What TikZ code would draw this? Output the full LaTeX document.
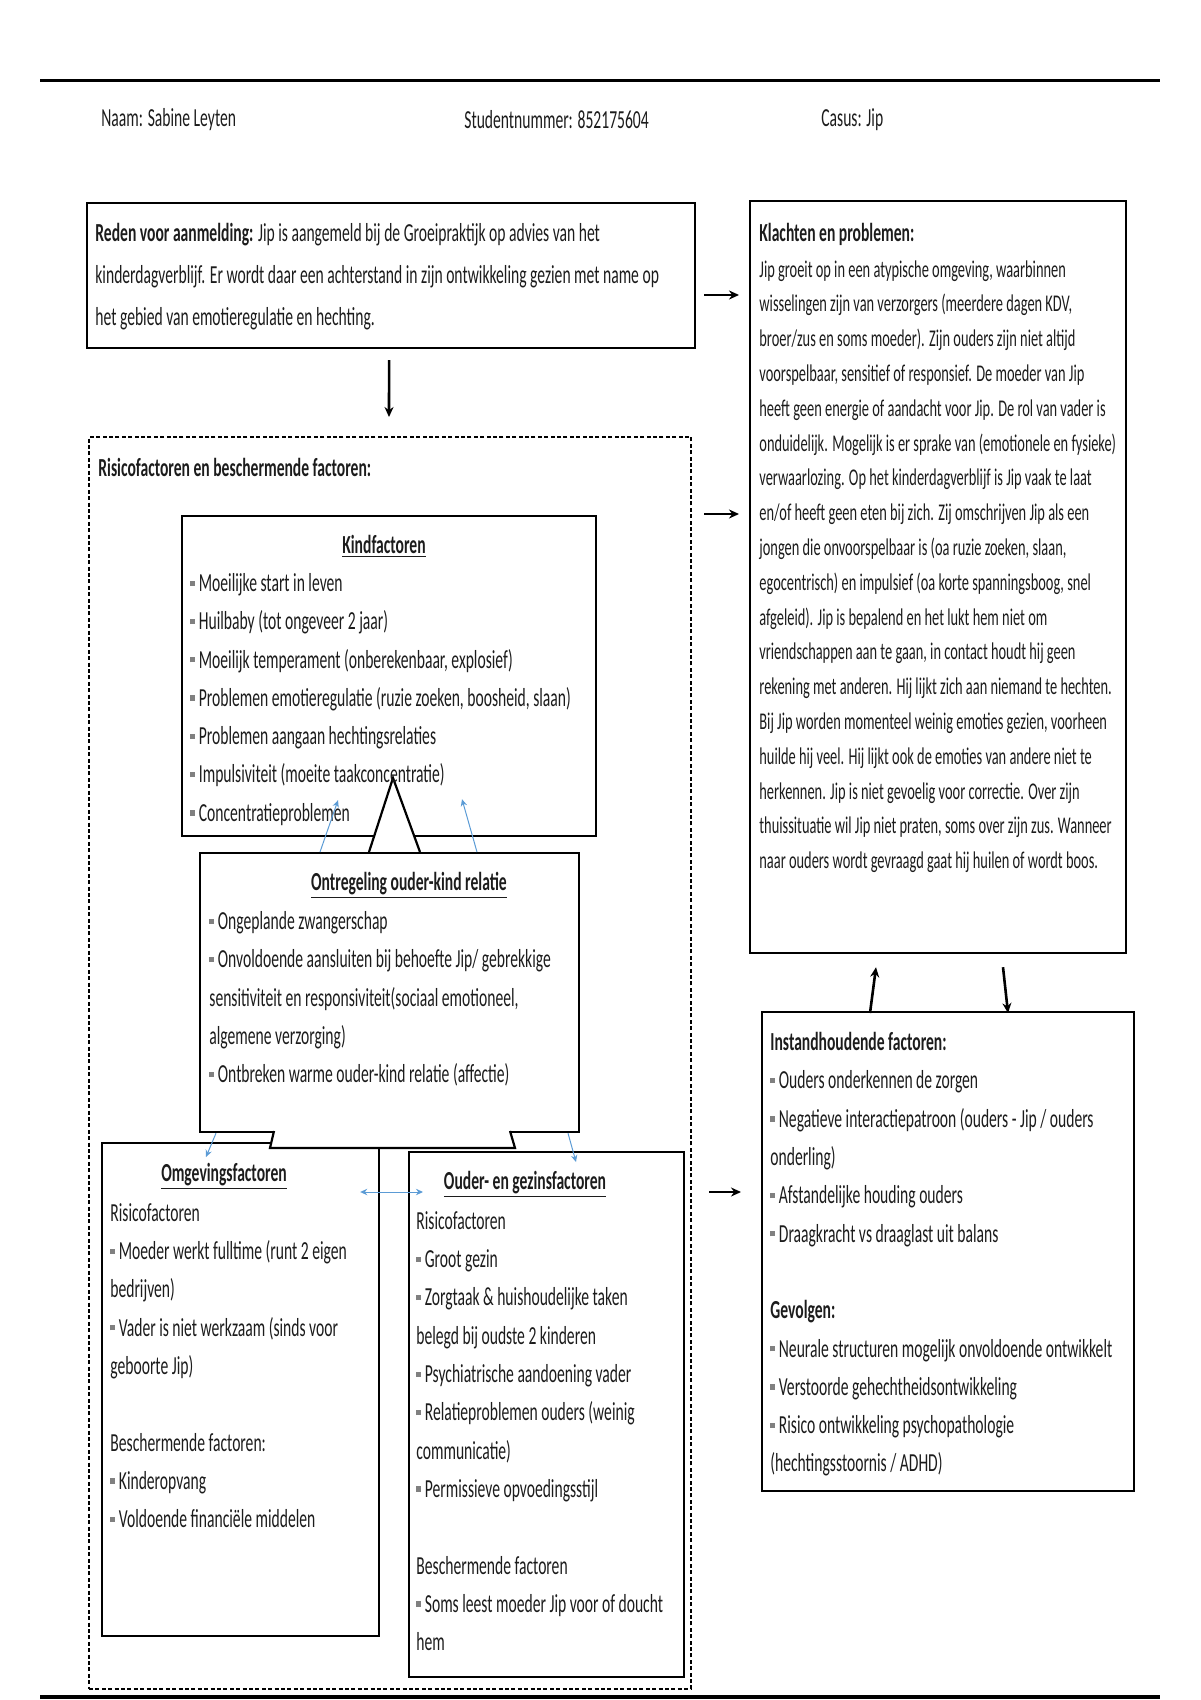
\documentclass[tikz,border=0pt]{standalone}
\usepackage{fontspec}
\setmainfont{Carlito}[FakeStretch=0.6]
\usetikzlibrary{arrows.meta,calc}
\definecolor{inkgray}{RGB}{28,28,28}
\definecolor{linkblue}{RGB}{91,155,213}
\newcommand{\bul}{{\color{gray}\rule[0.22em]{0.16em}{0.2em}}\,}
\tikzset{
  box/.style={draw, line width=1.1pt, anchor=north west},
  dashbox/.style={draw, line width=1pt, dash pattern=on 2pt off 1.2pt, anchor=north west},
  body/.style={anchor=north west, align=left},
  title/.style={anchor=base, font=\fontsize{13}{19.15}\selectfont\bfseries},
  blackarrow/.style={-{Stealth[length=5pt,width=4.5pt]}, line width=1.3pt},
  bluearrow/.style={-{Stealth[length=3.5pt,width=3.2pt]}, draw=linkblue, line width=0.5pt}
}
\begin{document}
\begin{tikzpicture}[x=0.5pt, y=-0.5pt, every node/.style={inner sep=0pt, text=inkgray, font=\fontsize{13}{19.15}\selectfont}]
  \useasboundingbox (0,0) rectangle (1200,1700);
  \draw[line width=1.5pt] (40,81) -- (1160,81);
  \draw[line width=2pt] (40,1697) -- (1160,1697);
  \node[anchor=west] (naam) at (101,120) {Naam: Sabine Leyten};
  \node[anchor=west] (studnr) at (464,120) {Studentnummer: 852175604};
  \node[anchor=west] (casus) at (821,120) {Casus: Jip};

  \node[box, minimum width=304pt, minimum height=72.5pt] (reden) at (86,202) {};
  \node[body, font=\fontsize{13}{20.9}\selectfont] (redentxt) at (95,223)
    {\textbf{Reden voor aanmelding:} Jip is aangemeld bij de Groeipraktijk op advies van het\\
     kinderdagverblijf. Er wordt daar een achterstand in zijn ontwikkeling gezien met name op\\
     het gebied van emotieregulatie en hechting.};

  \node[box, minimum width=188pt, minimum height=376pt] (klachten) at (749,200) {};
  \node[body, font=\fontsize{13}{19.15}\selectfont\bfseries] (klachtenkop) at (759,223) {Klachten en problemen:};
  \node[body, font=\fontsize{12}{17.4}\selectfont] (klachtentxt) at (759,260)
    {Jip groeit op in een atypische omgeving, waarbinnen\\
     wisselingen zijn van verzorgers (meerdere dagen KDV,\\
     broer/zus en soms moeder). Zijn ouders zijn niet altijd\\
     voorspelbaar, sensitief of responsief. De moeder van Jip\\
     heeft geen energie of aandacht voor Jip. De rol van vader is\\
     onduidelijk. Mogelijk is er sprake van (emotionele en fysieke)\\
     verwaarlozing. Op het kinderdagverblijf is Jip vaak te laat\\
     en/of heeft geen eten bij zich. Zij omschrijven Jip als een\\
     jongen die onvoorspelbaar is (oa ruzie zoeken, slaan,\\
     egocentrisch) en impulsief (oa korte spanningsboog, snel\\
     afgeleid). Jip is bepalend en het lukt hem niet om\\
     vriendschappen aan te gaan, in contact houdt hij geen\\
     rekening met anderen. Hij lijkt zich aan niemand te hechten.\\
     Bij Jip worden momenteel weinig emoties gezien, voorheen\\
     huilde hij veel. Hij lijkt ook de emoties van andere niet te\\
     herkennen. Jip is niet gevoelig voor correctie. Over zijn\\
     thuissituatie wil Jip niet praten, soms over zijn zus. Wanneer\\
     naar ouders wordt gevraagd gaat hij huilen of wordt boos.};

  \node[dashbox, minimum width=301pt, minimum height=626pt] (risico) at (88,436) {};
  \node[anchor=west, font=\fontsize{13}{19.15}\selectfont\bfseries] (risicokop) at (98,467) {Risicofactoren en beschermende factoren:};

  \node[box, minimum width=207pt, minimum height=160pt] (kind) at (181,515) {};
  \draw[line width=1.1pt, fill=white] (369,852) -- (393,778) -- (420,852);
  \node[title] (kindkop) at (384,553) {\underline{Kindfactoren}};
  \node[body] (kindtxt) at (190,573)
    {\bul Moeilijke start in leven\\
     \bul Huilbaby (tot ongeveer 2 jaar)\\
     \bul Moeilijk temperament (onberekenbaar, explosief)\\
     \bul Problemen emotieregulatie (ruzie zoeken, boosheid, slaan)\\
     \bul Problemen aangaan hechtingsrelaties\\
     \bul Impulsiviteit (moeite taakconcentratie)\\
     \bul Concentratieproblemen};

  \node[box, minimum width=189.5pt, minimum height=139.5pt] (ontregeling) at (199,852) {};
  \node[title] (ontregelingkop) at (409,890) {\underline{Ontregeling ouder-kind relatie}};
  \node[body] (ontregelingtxt) at (209,911)
    {\bul Ongeplande zwangerschap\\
     \bul Onvoldoende aansluiten bij behoefte Jip/ gebrekkige\\
     sensitiviteit en responsiviteit(sociaal emotioneel,\\
     algemene verzorging)\\
     \bul Ontbreken warme ouder-kind relatie (affectie)};

  \node[box, minimum width=138.5pt, minimum height=246.5pt] (omgeving) at (101,1142) {};
  \node[box, minimum width=137.5pt, minimum height=262.5pt] (ouder) at (408,1151) {};
  \draw[line width=1.1pt, fill=white] (274,1131) -- (270,1148) -- (515,1148) -- (510,1131);
  \node[title] (omgevingkop) at (224,1181) {\underline{Omgevingsfactoren}};
  \node[body] (omgevingtxt) at (110,1203)
    {Risicofactoren\\
     \bul Moeder werkt fulltime (runt 2 eigen\\
     bedrijven)\\
     \bul Vader is niet werkzaam (sinds voor\\
     geboorte Jip)\\[19.15pt]
     Beschermende factoren:\\
     \bul Kinderopvang\\
     \bul Voldoende financiële middelen};
  \node[title] (ouderkop) at (525,1189) {\underline{Ouder- en gezinsfactoren}};
  \node[body] (oudertxt) at (416,1211)
    {Risicofactoren\\
     \bul Groot gezin\\
     \bul Zorgtaak \& huishoudelijke taken\\
     belegd bij oudste 2 kinderen\\
     \bul Psychiatrische aandoening vader\\
     \bul Relatieproblemen ouders (weinig\\
     communicatie)\\
     \bul Permissieve opvoedingsstijl\\[19.15pt]
     Beschermende factoren\\
     \bul Soms leest moeder Jip voor of doucht\\
     hem};

  \node[box, minimum width=186pt, minimum height=239.5pt] (instand) at (761,1011) {};
  \node[body] (instandtxt) at (770,1032)
    {\textbf{Instandhoudende factoren:}\\
     \bul Ouders onderkennen de zorgen\\
     \bul Negatieve interactiepatroon (ouders - Jip / ouders\\
     onderling)\\
     \bul Afstandelijke houding ouders\\
     \bul Draagkracht vs draaglast uit balans\\[19.15pt]
     \textbf{Gevolgen:}\\
     \bul Neurale structuren mogelijk onvoldoende ontwikkelt\\
     \bul Verstoorde gehechtheidsontwikkeling\\
     \bul Risico ontwikkeling psychopathologie\\
     (hechtingsstoornis / ADHD)};

  \draw[blackarrow] ($(reden.south)+(-2,11)$) -- ($(risico.north)+(-1,-19)$);
  \draw[blackarrow] ($(reden.north east)+(8,93)$) -- ($(klachten.north west)+(-10,95)$);
  \draw[blackarrow] ($(risico.north east)+(12,78)$) -- ($(klachten.north west)+(-10,314)$);
  \draw[blackarrow] ($(risico.north east)+(17,756)$) -- ($(instand.north west)+(-20,181)$);
  \draw[blackarrow] ($(instand.north west)+(109,2)$) -- ($(klachten.south west)+(127,13)$);
  \draw[blackarrow] ($(klachten.south west)+(254,13)$) -- ($(instand.north west)+(247,2)$);

  \draw[bluearrow] ($(ontregeling.north west)+(121,0)$) -- ($(kind.south west)+(157,-37)$);
  \draw[bluearrow] ($(ontregeling.north west)+(278,0)$) -- ($(kind.south west)+(281,-38)$);
  \draw[bluearrow] ($(ontregeling.south west)+(17,0)$) -- ($(omgeving.north west)+(105,15)$);
  \draw[bluearrow] ($(ontregeling.south west)+(369,0)$) -- ($(ouder.north west)+(168,11)$);
  \draw[bluearrow, {Stealth[length=3.5pt,width=3.2pt]}-{Stealth[length=3.5pt,width=3.2pt]}] ($(omgeving.north east)+(-20,50)$) -- ($(ouder.north west)+(15,41)$);
\end{tikzpicture}
\end{document}
